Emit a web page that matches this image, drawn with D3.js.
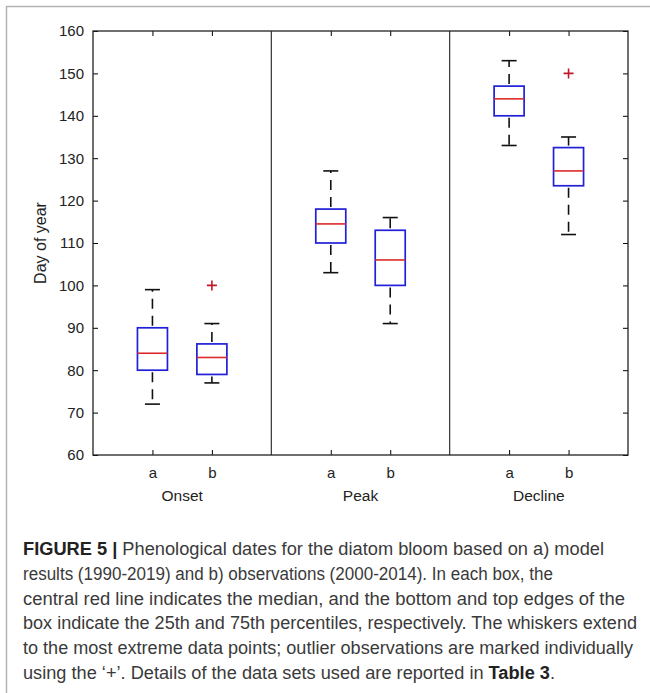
<!DOCTYPE html>
<html>
<head>
<meta charset="utf-8">
<script src="https://cdn.jsdelivr.net/npm/d3@7"></script>
<style>
  body { margin: 0; background: #fff; }
  svg { display: block; font-family: "Liberation Sans", Arial, sans-serif; }
</style>
</head>
<body>
<div id="chart"></div>
<script>
// Daten (Tag im Jahr)
const groups = ['Onset', 'Peak', 'Decline'];
const series = ['a', 'b'];
const whiskerLow  = [[72, 77], [103, 91], [133, 112]];
const q1          = [[80, 79], [110, 100], [140, 123.5]];
const medians     = [[84, 83], [114.5, 106], [144, 127]];
const q3          = [[90, 86.2], [118, 113], [147, 132.5]];
const whiskerHigh = [[99, 91], [127, 116], [153, 135]];
const outliers    = [[[], [100]], [[], []], [[], [150]]];
const yTicks = [60, 70, 80, 90, 100, 110, 120, 130, 140, 150, 160];

const captionLines = [
  [['FIGURE 5 | ', true], ['Phenological dates for the diatom bloom based on a) model', false]],
  [['results (1990-2019) and b) observations (2000-2014). In each box, the', false]],
  [['central red line indicates the median, and the bottom and top edges of the', false]],
  [['box indicate the 25th and 75th percentiles, respectively. The whiskers extend', false]],
  [['to the most extreme data points; outlier observations are marked individually', false]],
  [['using the \u2018+\u2019. Details of the data sets used are reported in ', false], ['Table 3', true], ['.', false]]
];
// ungefähre Zeilenbreite im Original (schmale Schrift)
const captionWidths = [581, 530, 602, 614, 610, 532];

// Tabelle für die Boxen aufbauen
const boxes = [];
groups.forEach((g, gi) => {
  series.forEach((s, si) => {
    boxes.push({
      group: g, series: s,
      lo: whiskerLow[gi][si], q1: q1[gi][si], med: medians[gi][si],
      q3: q3[gi][si], hi: whiskerHigh[gi][si], out: outliers[gi][si]
    });
  });
});

const W = 650, H = 693;
const plot = { left: 93, right: 628, top: 31, bottom: 455 };

const svg = d3.select('#chart').append('svg')
  .attr('width', W)
  .attr('height', H);

// Äußerer Rahmen der Abbildung
svg.append('rect')
  .attr('x', 6.5).attr('y', 6.5)
  .attr('width', W + 20).attr('height', H + 20)
  .attr('fill', 'none')
  .attr('stroke', '#b4b4b4')
  .attr('stroke-width', 1.5);

// Skalen
const y = d3.scaleLinear().domain([60, 160]).range([plot.bottom, plot.top]);
const xGroup = d3.scaleBand().domain(groups).range([plot.left, plot.right]).padding(0);
const xInner = d3.scalePoint().domain(series).range([0, xGroup.bandwidth()]).padding(1);
const xPos = d => xGroup(d.group) + xInner(d.series);

// Y-Achse links (Striche nach innen)
svg.append('g')
  .attr('transform', `translate(${plot.left},0)`)
  .call(d3.axisLeft(y).tickValues(yTicks).tickSizeInner(-5).tickSizeOuter(0).tickPadding(9))
  .call(g => g.select('.domain').remove())
  .call(g => g.selectAll('text').attr('font-size', 15).attr('fill', '#222').attr('font-family', null));

// Y-Achse rechts (nur Striche)
svg.append('g')
  .attr('transform', `translate(${plot.right},0)`)
  .call(d3.axisRight(y).tickValues(yTicks).tickSizeInner(-5).tickSizeOuter(0).tickFormat(''))
  .call(g => g.select('.domain').remove());

// X-Achsen je Gruppe
groups.forEach(g => {
  svg.append('g')
    .attr('transform', `translate(${xGroup(g)},${plot.bottom})`)
    .call(d3.axisBottom(xInner).tickSizeInner(-5).tickSizeOuter(0).tickPadding(12))
    .call(s => s.select('.domain').remove())
    .call(s => s.selectAll('text').attr('font-size', 15).attr('fill', '#222').attr('font-family', null));

  svg.append('g')
    .attr('transform', `translate(${xGroup(g)},${plot.top})`)
    .call(d3.axisTop(xInner).tickSizeInner(-5).tickSizeOuter(0).tickFormat(''))
    .call(s => s.select('.domain').remove());

  // Gruppenbeschriftung
  svg.append('text')
    .attr('x', xGroup(g) + xGroup.bandwidth() / 2)
    .attr('y', plot.bottom + 46)
    .attr('text-anchor', 'middle')
    .attr('font-size', 15.5)
    .attr('fill', '#222')
    .text(g);
});

// Trennlinien zwischen den Gruppen
svg.append('g')
  .selectAll('line')
  .data(groups.slice(1))
  .enter().append('line')
  .attr('x1', d => xGroup(d)).attr('x2', d => xGroup(d))
  .attr('y1', plot.top).attr('y2', plot.bottom)
  .attr('stroke', '#333')
  .attr('stroke-width', 1.2);

// Rahmen des Diagramms
svg.append('rect')
  .attr('x', plot.left).attr('y', plot.top)
  .attr('width', plot.right - plot.left)
  .attr('height', plot.bottom - plot.top)
  .attr('fill', 'none')
  .attr('stroke', '#222')
  .attr('stroke-width', 1.3);

// Beschriftung der Y-Achse
svg.append('text')
  .attr('transform', 'rotate(-90)')
  .attr('x', -(plot.top + plot.bottom) / 2)
  .attr('y', 46)
  .attr('text-anchor', 'middle')
  .attr('font-size', 16)
  .attr('fill', '#222')
  .text('Day of year');

// Boxplots zeichnen
const boxW = 30, capW = 15;
const box = svg.append('g')
  .selectAll('.box')
  .data(boxes)
  .enter().append('g')
  .attr('class', 'box');

// Whisker (gestrichelt)
box.append('line')
  .attr('x1', xPos).attr('x2', xPos)
  .attr('y1', d => y(d.q3)).attr('y2', d => y(d.hi))
  .attr('stroke', '#111').attr('stroke-width', 1.6)
  .attr('stroke-dasharray', '10,7')
  .attr('stroke-dashoffset', -2);
box.append('line')
  .attr('x1', xPos).attr('x2', xPos)
  .attr('y1', d => y(d.q1)).attr('y2', d => y(d.lo))
  .attr('stroke', '#111').attr('stroke-width', 1.6)
  .attr('stroke-dasharray', '10,7')
  .attr('stroke-dashoffset', -2);

// Whisker-Enden
box.selectAll('.cap')
  .data(d => [d.hi, d.lo].map(v => ({ x: xPos(d), v: v })))
  .enter().append('line')
  .attr('class', 'cap')
  .attr('x1', d => d.x - capW / 2).attr('x2', d => d.x + capW / 2)
  .attr('y1', d => y(d.v)).attr('y2', d => y(d.v))
  .attr('stroke', '#111').attr('stroke-width', 1.6);

// Box (25.–75. Perzentil)
box.append('rect')
  .attr('x', d => xPos(d) - boxW / 2)
  .attr('y', d => y(d.q3))
  .attr('width', boxW)
  .attr('height', d => y(d.q1) - y(d.q3))
  .attr('fill', 'none')
  .attr('stroke', '#2020d8')
  .attr('stroke-width', 1.7);

// Median
box.append('line')
  .attr('x1', d => xPos(d) - boxW / 2).attr('x2', d => xPos(d) + boxW / 2)
  .attr('y1', d => y(d.med)).attr('y2', d => y(d.med))
  .attr('stroke', '#dc2a2a').attr('stroke-width', 1.6);

// Ausreißer als '+'
box.selectAll('.outlier')
  .data(d => d.out.map(v => ({ x: xPos(d), v: v })))
  .enter().append('path')
  .attr('class', 'outlier')
  .attr('d', d => `M${d.x - 5},${y(d.v)}H${d.x + 5}M${d.x},${y(d.v) - 5}V${y(d.v) + 5}`)
  .attr('stroke', '#c01828')
  .attr('stroke-width', 1.6)
  .attr('fill', 'none');

// Bildunterschrift
const caption = svg.append('g').attr('fill', '#3a3a3a');
captionLines.forEach((parts, i) => {
  const t = caption.append('text')
    .attr('x', 23)
    .attr('y', 555 + i * 24.8)
    .attr('font-size', 17.5)
    .attr('textLength', captionWidths[i])
    .attr('lengthAdjust', 'spacingAndGlyphs');
  parts.forEach(p => {
    t.append('tspan')
      .attr('font-weight', p[1] ? 'bold' : null)
      .attr('fill', p[1] ? '#222' : null)
      .text(p[0]);
  });
});
</script>
</body>
</html>
